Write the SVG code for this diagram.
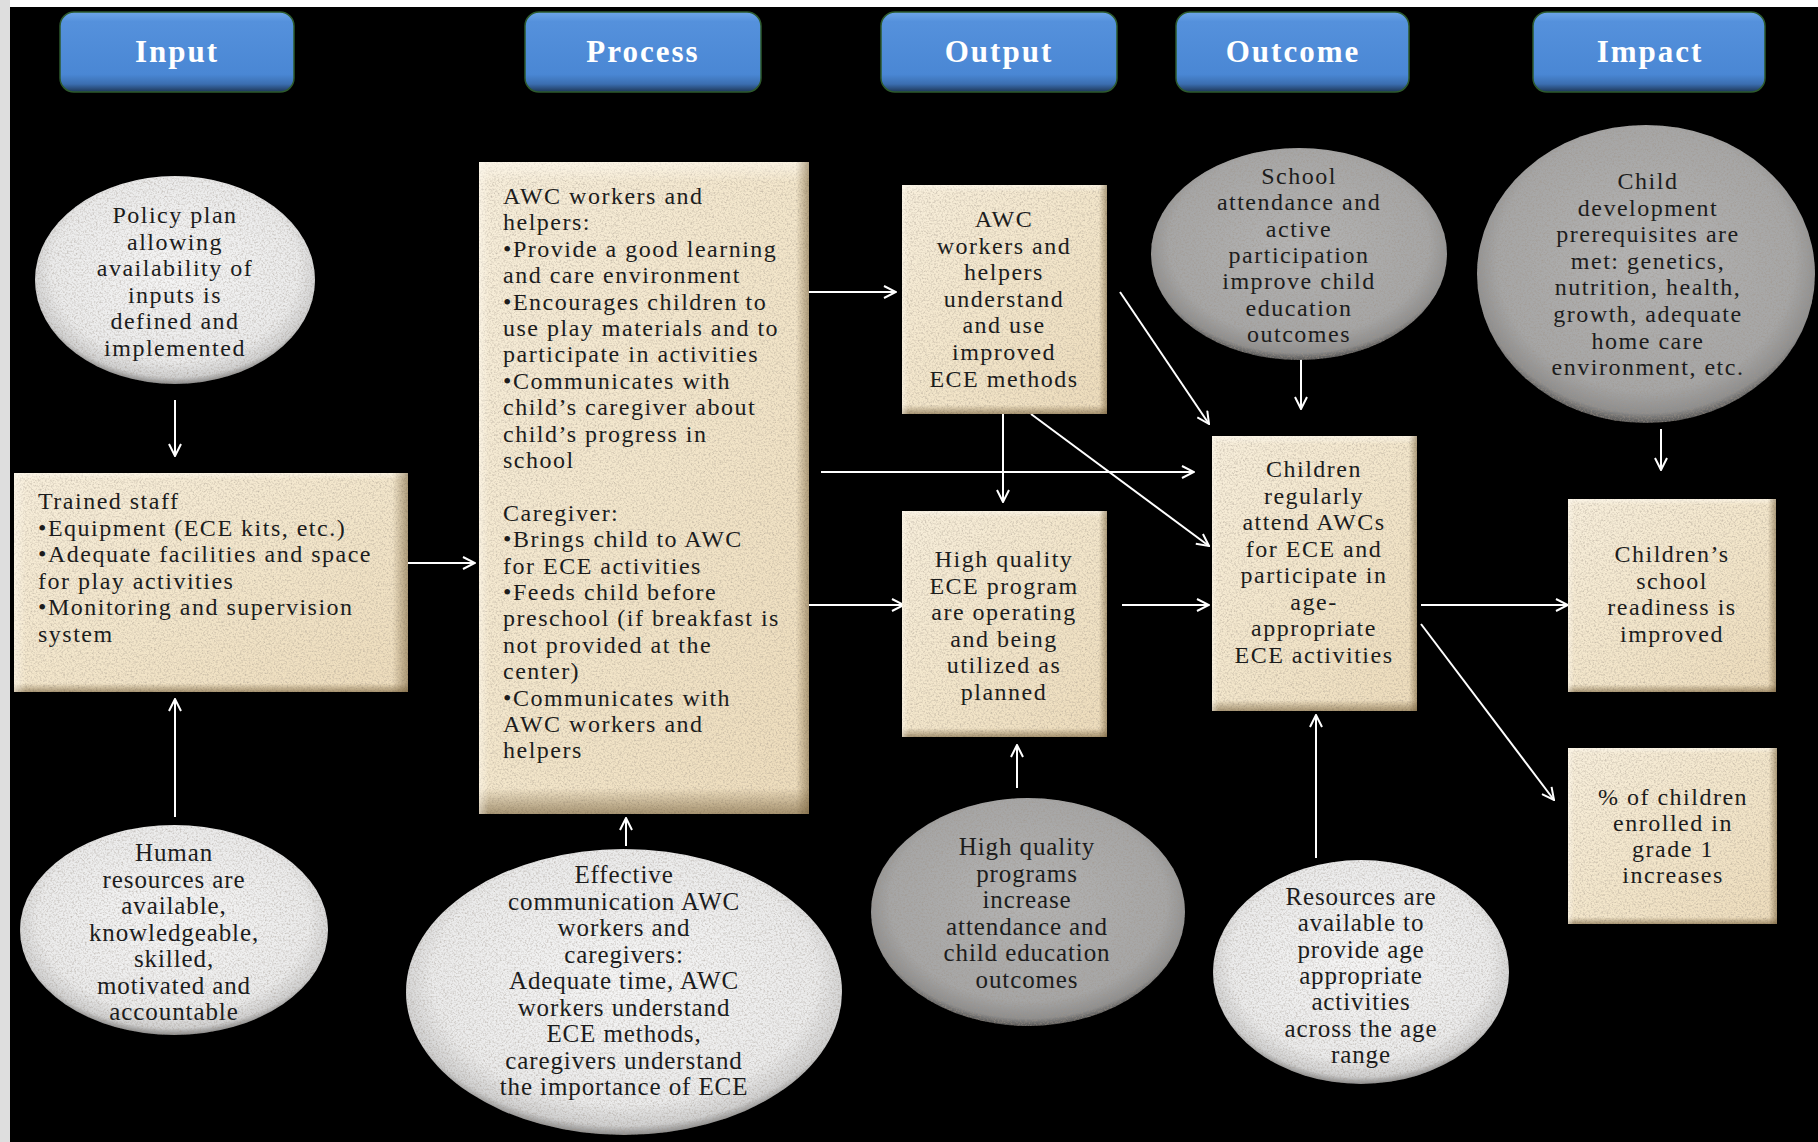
<svg xmlns="http://www.w3.org/2000/svg" width="1818" height="1142" viewBox="0 0 1818 1142">
<defs>
  <linearGradient id="btn" x1="0" y1="0" x2="0" y2="1">
    <stop offset="0" stop-color="#6ea5e8"/>
    <stop offset="0.12" stop-color="#5591dc"/>
    <stop offset="0.78" stop-color="#4a87d4"/>
    <stop offset="0.9" stop-color="#3b6eb0"/>
    <stop offset="1" stop-color="#1d3656"/>
  </linearGradient>
  <linearGradient id="parch" x1="0" y1="0" x2="1" y2="1">
    <stop offset="0" stop-color="#f7eedb"/>
    <stop offset="0.5" stop-color="#f3e6cb"/>
    <stop offset="1" stop-color="#eddcbb"/>
  </linearGradient>
  <linearGradient id="bevelV" x1="0" y1="0" x2="0" y2="1">
    <stop offset="0" stop-color="#fffaf0" stop-opacity="0.6"/>
    <stop offset="0.03" stop-color="#fffaf0" stop-opacity="0"/>
    <stop offset="0.96" stop-color="#6b5530" stop-opacity="0"/>
    <stop offset="1" stop-color="#6b5530" stop-opacity="0.55"/>
  </linearGradient>
  <linearGradient id="bevelH" x1="0" y1="0" x2="1" y2="0">
    <stop offset="0" stop-color="#fffaf0" stop-opacity="0.5"/>
    <stop offset="0.03" stop-color="#fffaf0" stop-opacity="0"/>
    <stop offset="0.96" stop-color="#6b5530" stop-opacity="0"/>
    <stop offset="1" stop-color="#6b5530" stop-opacity="0.5"/>
  </linearGradient>
  <radialGradient id="stoneW" cx="0.5" cy="0.45" r="0.55">
    <stop offset="0" stop-color="#f6f6f6"/>
    <stop offset="0.8" stop-color="#ebebeb"/>
    <stop offset="0.94" stop-color="#d0d0d0"/>
    <stop offset="1" stop-color="#8a8a8a"/>
  </radialGradient>
  <radialGradient id="stoneG" cx="0.5" cy="0.45" r="0.55">
    <stop offset="0" stop-color="#b4b4b4"/>
    <stop offset="0.8" stop-color="#a6a6a6"/>
    <stop offset="0.94" stop-color="#8e8e8e"/>
    <stop offset="1" stop-color="#555555"/>
  </radialGradient>
  <filter id="tex" x="0%" y="0%" width="100%" height="100%">
    <feTurbulence type="fractalNoise" baseFrequency="0.55" numOctaves="3" seed="7" result="noise"/>
    <feColorMatrix in="noise" type="matrix" values="0 0 0 0 0.35  0 0 0 0 0.3  0 0 0 0 0.25  1.3 0 0 0 -0.55" result="spots"/>
    <feComposite in="spots" in2="SourceAlpha" operator="in" result="clip"/>
    <feMerge><feMergeNode in="SourceGraphic"/><feMergeNode in="clip"/></feMerge>
  </filter>
  <marker id="arr" viewBox="0 0 14 14" markerWidth="14" markerHeight="14" refX="13" refY="7" orient="auto" markerUnits="userSpaceOnUse">
    <path d="M1,1 L13,7 L1,13" fill="none" stroke="#ffffff" stroke-width="2"/>
  </marker>
  <style>
    .hdr rect { fill: url(#btn); stroke: #2d5a2d; stroke-width: 1.5; }
    .hdr text { font-family: "Liberation Serif", "Times New Roman", serif; font-weight: bold; font-size: 31px; fill: #ffffff; text-anchor: middle; letter-spacing: 2px; }
    .box { fill: url(#parch); filter: url(#tex); }
    .bv { fill: url(#bevelV); }
    .bh { fill: url(#bevelH); }
    .sw { fill: url(#stoneW); filter: url(#tex); }
    .sg { fill: url(#stoneG); filter: url(#tex); }
    .t { font-family: "Liberation Serif", "Times New Roman", serif; font-size: 24px; letter-spacing: 1.5px; fill: #1c1c1c; }
    .c { text-anchor: middle; }
    .b { font-family: "Liberation Serif", "Times New Roman", serif; font-size: 25px; letter-spacing: 0.9px; fill: #1c1c1c; text-anchor: middle; }
    .cn line { stroke: #ffffff; stroke-width: 2; marker-end: url(#arr); }
  </style>
</defs>

<rect x="0" y="0" width="1818" height="1142" fill="#000000"/>
<rect x="0" y="0" width="1818" height="7" fill="#ffffff"/>
<rect x="0" y="0" width="10" height="1142" fill="#dedede"/>

<g id="headers" class="hdr">
  <g id="h-input"><rect x="60" y="12" width="234" height="80" rx="14"/><text x="177" y="62">Input</text></g>
  <g id="h-process"><rect x="525" y="12" width="236" height="80" rx="14"/><text x="643" y="62">Process</text></g>
  <g id="h-output"><rect x="881" y="12" width="236" height="80" rx="14"/><text x="999" y="62">Output</text></g>
  <g id="h-outcome"><rect x="1176" y="12" width="233" height="80" rx="14"/><text x="1293" y="62">Outcome</text></g>
  <g id="h-impact"><rect x="1533" y="12" width="232" height="80" rx="14"/><text x="1650" y="62">Impact</text></g>
</g>

<g id="connectors" class="cn">
  <line x1="175" y1="400" x2="175" y2="456"/>
  <line x1="175" y1="817" x2="175" y2="699"/>
  <line x1="408" y1="563" x2="475" y2="563"/>
  <line x1="626" y1="846" x2="626" y2="818"/>
  <line x1="809" y1="292" x2="896" y2="292"/>
  <line x1="821" y1="472" x2="1194" y2="472"/>
  <line x1="809" y1="605" x2="904" y2="605"/>
  <line x1="1003" y1="414" x2="1003" y2="502"/>
  <line x1="1120" y1="292" x2="1209" y2="424"/>
  <line x1="1031" y1="414" x2="1209" y2="546"/>
  <line x1="1122" y1="605" x2="1209" y2="605"/>
  <line x1="1301" y1="354" x2="1301" y2="409"/>
  <line x1="1017" y1="788" x2="1017" y2="745"/>
  <line x1="1316" y1="858" x2="1316" y2="715"/>
  <line x1="1421" y1="605" x2="1568" y2="605"/>
  <line x1="1421" y1="624" x2="1554" y2="800"/>
  <line x1="1661" y1="429" x2="1661" y2="470"/>
</g>

<g id="policy">
  <ellipse class="sw" cx="175" cy="280" rx="140" ry="104"/>
  <text class="t c" x="175" y="223">Policy plan<tspan x="175" dy="26.5">allowing</tspan><tspan x="175" dy="26.5">availability of</tspan><tspan x="175" dy="26.5">inputs is</tspan><tspan x="175" dy="26.5">defined and</tspan><tspan x="175" dy="26.5">implemented</tspan></text>
</g>

<g id="trained-staff">
  <rect class="box" x="14" y="473" width="394" height="219"/>
  <rect class="bv" x="14" y="473" width="394" height="219"/>
  <rect class="bh" x="14" y="473" width="394" height="219"/>
  <text class="t" x="38" y="509">Trained staff<tspan x="38" dy="26.6">•Equipment (ECE kits, etc.)</tspan><tspan x="38" dy="26.6">•Adequate facilities and space</tspan><tspan x="38" dy="26.6">for play activities</tspan><tspan x="38" dy="26.6">•Monitoring and supervision</tspan><tspan x="38" dy="26.6">system</tspan></text>
</g>

<g id="human-resources">
  <ellipse class="sw" cx="174" cy="930" rx="154" ry="105"/>
  <text class="b" x="174" y="861">Human<tspan x="174" dy="26.5">resources are</tspan><tspan x="174" dy="26.5">available,</tspan><tspan x="174" dy="26.5">knowledgeable,</tspan><tspan x="174" dy="26.5">skilled,</tspan><tspan x="174" dy="26.5">motivated and</tspan><tspan x="174" dy="26.5">accountable</tspan></text>
</g>

<g id="process">
  <rect class="box" x="479" y="162" width="330" height="652"/>
  <rect class="bv" x="479" y="162" width="330" height="652"/>
  <rect class="bh" x="479" y="162" width="330" height="652"/>
  <text class="t" x="503" y="204">AWC workers and<tspan x="503" dy="26.4">helpers:</tspan><tspan x="503" dy="26.4">•Provide a good learning</tspan><tspan x="503" dy="26.4">and care environment</tspan><tspan x="503" dy="26.4">•Encourages children to</tspan><tspan x="503" dy="26.4">use play materials and to</tspan><tspan x="503" dy="26.4">participate in activities</tspan><tspan x="503" dy="26.4">•Communicates with</tspan><tspan x="503" dy="26.4">child’s caregiver about</tspan><tspan x="503" dy="26.4">child’s progress in</tspan><tspan x="503" dy="26.4">school</tspan><tspan x="503" dy="52.8">Caregiver:</tspan><tspan x="503" dy="26.4">•Brings child to AWC</tspan><tspan x="503" dy="26.4">for ECE activities</tspan><tspan x="503" dy="26.4">•Feeds child before</tspan><tspan x="503" dy="26.4">preschool (if breakfast is</tspan><tspan x="503" dy="26.4">not provided at the</tspan><tspan x="503" dy="26.4">center)</tspan><tspan x="503" dy="26.4">•Communicates with</tspan><tspan x="503" dy="26.4">AWC workers and</tspan><tspan x="503" dy="26.4">helpers</tspan></text>
</g>

<g id="effective-communication">
  <ellipse class="sw" cx="624" cy="992" rx="218" ry="143"/>
  <text class="b" x="624" y="883">Effective<tspan x="624" dy="26.5">communication AWC</tspan><tspan x="624" dy="26.5">workers and</tspan><tspan x="624" dy="26.5">caregivers:</tspan><tspan x="624" dy="26.5">Adequate time, AWC</tspan><tspan x="624" dy="26.5">workers understand</tspan><tspan x="624" dy="26.5">ECE methods,</tspan><tspan x="624" dy="26.5">caregivers understand</tspan><tspan x="624" dy="26.5">the importance of ECE</tspan></text>
</g>

<g id="awc-understand">
  <rect class="box" x="902" y="185" width="205" height="229"/>
  <rect class="bv" x="902" y="185" width="205" height="229"/>
  <rect class="bh" x="902" y="185" width="205" height="229"/>
  <text class="t c" x="1004" y="227">AWC<tspan x="1004" dy="26.6">workers and</tspan><tspan x="1004" dy="26.6">helpers</tspan><tspan x="1004" dy="26.6">understand</tspan><tspan x="1004" dy="26.6">and use</tspan><tspan x="1004" dy="26.6">improved</tspan><tspan x="1004" dy="26.6">ECE methods</tspan></text>
</g>

<g id="high-quality-program">
  <rect class="box" x="902" y="511" width="205" height="226"/>
  <rect class="bv" x="902" y="511" width="205" height="226"/>
  <rect class="bh" x="902" y="511" width="205" height="226"/>
  <text class="t c" x="1004" y="567">High quality<tspan x="1004" dy="26.6">ECE program</tspan><tspan x="1004" dy="26.6">are operating</tspan><tspan x="1004" dy="26.6">and being</tspan><tspan x="1004" dy="26.6">utilized as</tspan><tspan x="1004" dy="26.6">planned</tspan></text>
</g>

<g id="hq-programs-increase">
  <ellipse class="sg" cx="1028" cy="912" rx="157" ry="114"/>
  <text class="b" x="1027" y="855">High quality<tspan x="1027" dy="26.6">programs</tspan><tspan x="1027" dy="26.6">increase</tspan><tspan x="1027" dy="26.6">attendance and</tspan><tspan x="1027" dy="26.6">child education</tspan><tspan x="1027" dy="26.6">outcomes</tspan></text>
</g>

<g id="school-attendance">
  <ellipse class="sg" cx="1299" cy="254" rx="148" ry="106"/>
  <text class="t c" x="1299" y="184">School<tspan x="1299" dy="26.3">attendance and</tspan><tspan x="1299" dy="26.3">active</tspan><tspan x="1299" dy="26.3">participation</tspan><tspan x="1299" dy="26.3">improve child</tspan><tspan x="1299" dy="26.3">education</tspan><tspan x="1299" dy="26.3">outcomes</tspan></text>
</g>

<g id="children-attend">
  <rect class="box" x="1212" y="436" width="205" height="275"/>
  <rect class="bv" x="1212" y="436" width="205" height="275"/>
  <rect class="bh" x="1212" y="436" width="205" height="275"/>
  <text class="t c" x="1314" y="477">Children<tspan x="1314" dy="26.5">regularly</tspan><tspan x="1314" dy="26.5">attend AWCs</tspan><tspan x="1314" dy="26.5">for ECE and</tspan><tspan x="1314" dy="26.5">participate in</tspan><tspan x="1314" dy="26.5">age-</tspan><tspan x="1314" dy="26.5">appropriate</tspan><tspan x="1314" dy="26.5">ECE activities</tspan></text>
</g>

<g id="resources">
  <ellipse class="sw" cx="1361" cy="972" rx="148" ry="112"/>
  <text class="b" x="1361" y="905">Resources are<tspan x="1361" dy="26.3">available to</tspan><tspan x="1361" dy="26.3">provide age</tspan><tspan x="1361" dy="26.3">appropriate</tspan><tspan x="1361" dy="26.3">activities</tspan><tspan x="1361" dy="26.3">across the age</tspan><tspan x="1361" dy="26.3">range</tspan></text>
</g>

<g id="child-development">
  <ellipse class="sg" cx="1646" cy="274" rx="169" ry="149"/>
  <text class="t c" x="1648" y="189">Child<tspan x="1648" dy="26.6">development</tspan><tspan x="1648" dy="26.6">prerequisites are</tspan><tspan x="1648" dy="26.6">met:  genetics,</tspan><tspan x="1648" dy="26.6">nutrition, health,</tspan><tspan x="1648" dy="26.6">growth, adequate</tspan><tspan x="1648" dy="26.6">home care</tspan><tspan x="1648" dy="26.6">environment, etc.</tspan></text>
</g>

<g id="school-readiness">
  <rect class="box" x="1568" y="499" width="208" height="193"/>
  <rect class="bv" x="1568" y="499" width="208" height="193"/>
  <rect class="bh" x="1568" y="499" width="208" height="193"/>
  <text class="t c" x="1672" y="562">Children’s<tspan x="1672" dy="26.7">school</tspan><tspan x="1672" dy="26.7">readiness is</tspan><tspan x="1672" dy="26.7">improved</tspan></text>
</g>

<g id="grade1-enrolment">
  <rect class="box" x="1568" y="748" width="209" height="176"/>
  <rect class="bv" x="1568" y="748" width="209" height="176"/>
  <rect class="bh" x="1568" y="748" width="209" height="176"/>
  <text class="t c" x="1673" y="805">% of children<tspan x="1673" dy="26">enrolled in</tspan><tspan x="1673" dy="26">grade 1</tspan><tspan x="1673" dy="26">increases</tspan></text>
</g>
</svg>
